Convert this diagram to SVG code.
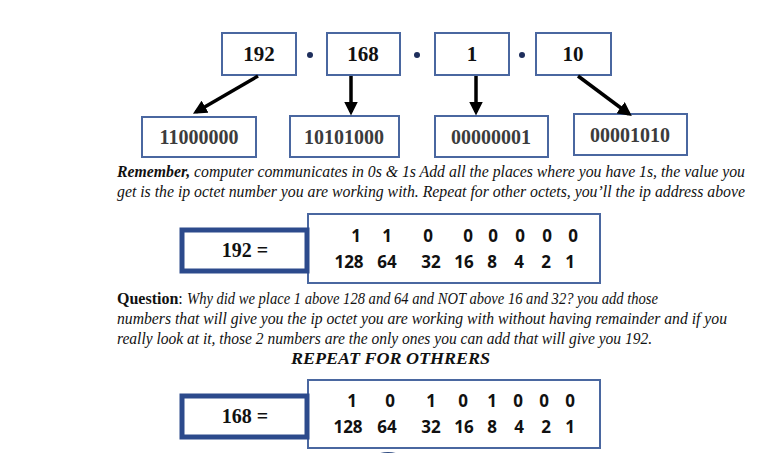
<svg xmlns="http://www.w3.org/2000/svg" width="768" height="453" viewBox="0 0 768 453">
<defs>
<style>
.box{fill:#fff;stroke:#4a67a0;stroke-width:2}
.lbox{fill:#fff;stroke:#2c4a8c;stroke-width:5}
.top{font-family:"Liberation Serif",serif;font-weight:bold;font-size:21px;fill:#111;text-anchor:middle}
.bin{font-family:"Liberation Serif",serif;font-weight:bold;font-size:20px;fill:#3c3c3c;text-anchor:middle}
.eq{font-family:"Liberation Serif",serif;font-weight:bold;font-size:20px;fill:#111;text-anchor:middle}
.bit{font-family:"Open Sans",sans-serif;font-weight:bold;font-size:17px;fill:#111;text-anchor:middle}
.para{font-family:"Liberation Serif",serif;font-size:16px;fill:#111;font-style:italic}
.upright{font-style:normal}
.conn{stroke:#000;stroke-width:3.5;fill:none;marker-end:url(#ah)}
</style>
<marker id="ah" markerWidth="4" markerHeight="4" refX="3" refY="2" orient="auto" markerUnits="strokeWidth">
<path d="M0,0 L4,2 L0,4 Z" fill="#000"/>
</marker>
</defs>
<rect width="768" height="453" fill="#fff"/>

<g id="ip192"><rect class="box" x="222" y="33" width="74" height="42"/><text class="top" x="259" y="61">192</text></g>
<g id="ip168"><rect class="box" x="327" y="33" width="73" height="42"/><text class="top" x="363" y="61">168</text></g>
<g id="ip1"><rect class="box" x="435" y="33" width="74" height="42"/><text class="top" x="472" y="61">1</text></g>
<g id="ip10"><rect class="box" x="536" y="33" width="75" height="42"/><text class="top" x="573" y="61">10</text></g>
<g id="dots" fill="#1e2e5c"><circle cx="310" cy="55" r="3"/><circle cx="417" cy="55" r="3"/><circle cx="522" cy="55" r="3"/></g>

<g id="b1"><rect class="box" x="142" y="117" width="114" height="40"/><text class="bin" x="199" y="144">11000000</text></g>
<g id="b2"><rect class="box" x="290" y="116" width="109" height="41"/><text class="bin" x="344" y="144">10101000</text></g>
<g id="b3"><rect class="box" x="435" y="116" width="113" height="41"/><text class="bin" x="491" y="144">00000001</text></g>
<g id="b4"><rect class="box" x="574" y="114" width="113" height="41"/><text class="bin" x="630" y="142">00001010</text></g>

<g id="connectors">
<line class="conn" x1="258" y1="76" x2="196" y2="112"/>
<line class="conn" x1="351" y1="76" x2="351" y2="112"/>
<line class="conn" x1="476" y1="76" x2="476" y2="112"/>
<line class="conn" x1="578" y1="76" x2="629" y2="114"/>
</g>

<g id="para1">
<text class="para" x="117" y="177" textLength="628" lengthAdjust="spacingAndGlyphs"><tspan font-weight="bold">Remember,</tspan> computer communicates in 0s &amp; 1s Add all the places where you have 1s, the value you</text>
<text class="para" x="117" y="197" textLength="628" lengthAdjust="spacingAndGlyphs">get is the ip octet number you are working with. Repeat for other octets, you’ll the ip address above</text>
</g>

<g id="table192">
<rect class="box" x="308" y="214" width="292" height="69"/>
<rect class="lbox" x="182" y="230" width="125" height="41"/>
<text class="eq" x="245" y="257">192 =</text>
<text class="bit" x="356" y="242">1</text><text class="bit" x="387" y="242">1</text><text class="bit" x="428" y="242">0</text><text class="bit" x="468" y="242">0</text><text class="bit" x="493" y="242">0</text><text class="bit" x="520" y="242">0</text><text class="bit" x="547" y="242">0</text><text class="bit" x="573" y="242">0</text>
<text class="bit" x="349" y="268">128</text><text class="bit" x="387" y="268">64</text><text class="bit" x="431" y="268">32</text><text class="bit" x="464" y="268">16</text><text class="bit" x="492" y="268">8</text><text class="bit" x="519" y="268">4</text><text class="bit" x="546" y="268">2</text><text class="bit" x="570" y="268">1</text>
</g>

<g id="para2">
<text class="para upright" x="117" y="304"><tspan font-weight="bold">Question</tspan>:</text>
<text class="para" x="187" y="304" textLength="471" lengthAdjust="spacingAndGlyphs">Why did we place 1 above 128 and 64 and NOT above 16 and 32? you add those</text>
<text class="para" x="117" y="324" textLength="610" lengthAdjust="spacingAndGlyphs">numbers that will give you the ip octet you are working with without having remainder and if you</text>
<text class="para" x="117" y="344" textLength="535" lengthAdjust="spacingAndGlyphs">really look at it, those 2 numbers are the only ones you can add that will give you 192.</text>
<text class="para" x="291" y="364" font-weight="bold" textLength="199" lengthAdjust="spacingAndGlyphs">REPEAT FOR OTHRERS</text>
</g>

<g id="table168">
<rect class="box" x="308" y="380" width="292" height="68"/>
<rect class="lbox" x="182" y="396" width="125" height="41"/>
<text class="eq" x="245" y="423">168 =</text>
<text class="bit" x="352" y="407">1</text><text class="bit" x="390" y="407">0</text><text class="bit" x="431" y="407">1</text><text class="bit" x="463" y="407">0</text><text class="bit" x="492" y="407">1</text><text class="bit" x="518" y="407">0</text><text class="bit" x="544" y="407">0</text><text class="bit" x="570" y="407">0</text>
<text class="bit" x="348" y="433">128</text><text class="bit" x="387" y="433">64</text><text class="bit" x="431" y="433">32</text><text class="bit" x="464" y="433">16</text><text class="bit" x="492" y="433">8</text><text class="bit" x="519" y="433">4</text><text class="bit" x="546" y="433">2</text><text class="bit" x="570" y="433">1</text>
</g>

<g id="partial"><ellipse cx="388" cy="463" rx="18" ry="11" fill="#2e4a80"/></g>
</svg>
